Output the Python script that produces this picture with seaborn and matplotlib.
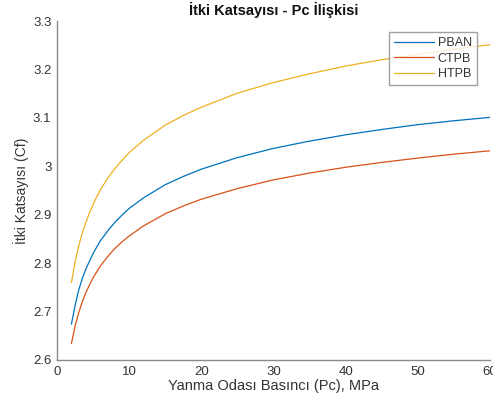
import numpy as np
import pandas as pd
import matplotlib
matplotlib.use("Agg")
import matplotlib.pyplot as plt
import seaborn as sns

# Chamber pressure (MPa)
pc = [2, 2.5, 3, 3.5, 4, 4.5, 5, 5.5, 6, 7, 8, 9, 10, 12, 15, 17.5, 20, 25, 30, 35,
      40, 45, 50, 55, 60]
# Thrust coefficient values
pban = [2.674, 2.712, 2.744, 2.768, 2.788, 2.804, 2.820, 2.833, 2.846, 2.866, 2.884,
        2.899, 2.913, 2.935, 2.962, 2.979, 2.994, 3.018, 3.037, 3.052, 3.065, 3.076,
        3.086, 3.094, 3.101]
ctpb = [2.634, 2.670, 2.697, 2.720, 2.739, 2.755, 2.770, 2.782, 2.794, 2.813, 2.830,
        2.844, 2.856, 2.877, 2.902, 2.918, 2.932, 2.954, 2.972, 2.986, 2.998, 3.008,
        3.017, 3.025, 3.032]
htpb = [2.760, 2.802, 2.835, 2.862, 2.884, 2.904, 2.921, 2.937, 2.951, 2.975, 2.995,
        3.012, 3.028, 3.054, 3.085, 3.105, 3.122, 3.151, 3.173, 3.191, 3.207, 3.220,
        3.231, 3.242, 3.251]
series_names = ["PBAN", "CTPB", "HTPB"]
xticks = [0, 10, 20, 30, 40, 50, 60]
yticks = [2.6, 2.7, 2.8, 2.9, 3.0, 3.1, 3.2, 3.3]
yticklabels = ["2.6", "2.7", "2.8", "2.9", "3", "3.1", "3.2", "3.3"]

df = pd.concat([
    pd.DataFrame({"Pc": pc, "Cf": vals, "Yakıt": name})
    for name, vals in zip(series_names, [pban, ctpb, htpb])
], ignore_index=True)

sns.set_theme(style="white")
plt.rcParams["font.family"] = ["Liberation Sans", "DejaVu Sans"]

palette = {"PBAN": "#0072BD", "CTPB": "#D95319", "HTPB": "#EDB120"}

fig = plt.figure(figsize=(4.93, 4.07), dpi=100)
ax = fig.add_axes([57 / 493, 1 - 360 / 407, (490 - 57) / 493, (360 - 21) / 407])

sns.lineplot(data=df, x="Pc", y="Cf", hue="Yakıt", hue_order=series_names,
             palette=palette, linewidth=0.9, ax=ax, sort=True, estimator=None)

ax.set_xlim(0, 60)
ax.set_ylim(2.6, 3.3)
ax.set_xticks(xticks)
ax.set_yticks(yticks)
ax.set_yticklabels(yticklabels)

for s in ["top", "right"]:
    ax.spines[s].set_visible(False)
for s in ["left", "bottom"]:
    ax.spines[s].set_color("#8a8a8a")
    ax.spines[s].set_linewidth(1.0)

ax.tick_params(direction="in", length=3, width=0.8, color="#8a8a8a",
               labelsize=9.5, labelcolor="#333333", pad=4)

ax.set_xlabel("Yanma Odası Basıncı (Pc), MPa", fontsize=10.5, color="#333333", labelpad=1)
ax.set_ylabel("İtki Katsayısı (Cf)", fontsize=10, color="#333333", labelpad=3)
ax.set_title("İtki Katsayısı - Pc İlişkisi", fontsize=10.5, fontweight="bold",
             color="#111111", pad=4)

leg = ax.legend(title=None, loc="upper right", bbox_to_anchor=(0.975, 0.975),
                fontsize=9, handlelength=3.2, handletextpad=0.25,
                labelspacing=0.3, borderpad=0.4, frameon=True, fancybox=False,
                edgecolor="#8a8a8a", borderaxespad=0.2, alignment="right")
leg.get_frame().set_linewidth(1.0)
for t in leg.get_texts():
    t.set_color("#333333")

fig.savefig("out.png", dpi=100)
